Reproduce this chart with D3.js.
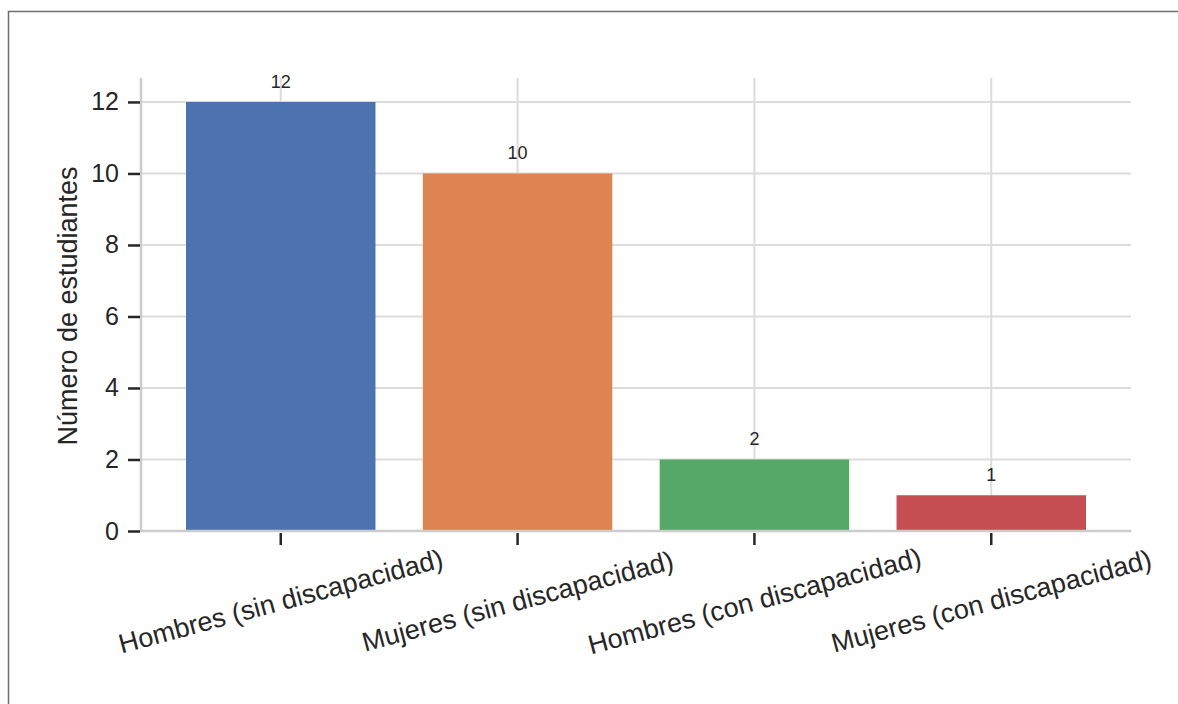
<!DOCTYPE html>
<html lang="es">
<head>
  <meta charset="UTF-8">
  <title>Número de estudiantes</title>
  <script src="https://d3js.org/d3.v7.min.js"></script>
  <style>
    body { margin: 0; background: #fff; }
    text { font-family: "Liberation Sans", Arial, sans-serif; fill: #262626; }
  </style>
</head>
<body>
  <div id="chart"></div>
  <script>
    const width = 1178;
    const height = 704;

    // Datos
    const categorias = [
      "Hombres (sin discapacidad)",
      "Mujeres (sin discapacidad)",
      "Hombres (con discapacidad)",
      "Mujeres (con discapacidad)"
    ];
    const valores = [12, 10, 2, 1];
    const colores = ["#4c72b0", "#dd8452", "#55a868", "#c44e52"];
    const yTicks = [0, 2, 4, 6, 8, 10, 12];

    const margin = { left: 141, right: 47, top: 78, bottom: 173 };
    const plotW = width - margin.left - margin.right;

    const svg = d3.select("#chart")
      .append("svg")
      .attr("width", width)
      .attr("height", height);

    // borde del marco
    svg.append("rect")
      .attr("x", 8.5).attr("y", 11.5)
      .attr("width", width).attr("height", height)
      .attr("fill", "none")
      .attr("stroke", "#6e6e6e")
      .attr("stroke-width", 1.5);

    // escalas: índice de categoría con márgenes como matplotlib
    const x = d3.scaleLinear()
      .domain([-0.59, categorias.length - 1 + 0.59])
      .range([margin.left, margin.left + plotW]);
    const y = d3.scaleLinear()
      .domain([0, 12.67])
      .range([531, margin.top]);

    const g = svg.append("g");

    // rejilla
    g.selectAll(".hgrid")
      .data(yTicks)
      .enter().append("line")
      .attr("x1", x.range()[0]).attr("x2", x.range()[1])
      .attr("y1", d => y(d)).attr("y2", d => y(d))
      .attr("stroke", "#dcdcdc").attr("stroke-width", 2);
    g.selectAll(".vgrid")
      .data(categorias)
      .enter().append("line")
      .attr("x1", (d, i) => x(i)).attr("x2", (d, i) => x(i))
      .attr("y1", y.range()[0]).attr("y2", y.range()[1])
      .attr("stroke", "#dcdcdc").attr("stroke-width", 2);

    // barras
    const bw = x(0.8) - x(0);
    g.selectAll(".bar")
      .data(valores)
      .enter().append("rect")
      .attr("x", (d, i) => x(i) - bw / 2)
      .attr("y", d => y(d))
      .attr("width", bw)
      .attr("height", d => y(0) - y(d))
      .attr("fill", (d, i) => colores[i]);

    // etiquetas de valor
    g.selectAll(".val")
      .data(valores)
      .enter().append("text")
      .attr("x", (d, i) => x(i))
      .attr("y", d => y(d) - 14)
      .attr("text-anchor", "middle")
      .style("font-size", "18px")
      .text(d => d);

    // ejes (spines)
    g.append("line")
      .attr("x1", x.range()[0]).attr("x2", x.range()[0])
      .attr("y1", y.range()[0] + 1).attr("y2", y.range()[1])
      .attr("stroke", "#cccccc").attr("stroke-width", 2.5);
    g.append("line")
      .attr("x1", x.range()[0]).attr("x2", x.range()[1])
      .attr("y1", y(0)).attr("y2", y(0))
      .attr("stroke", "#cccccc").attr("stroke-width", 2.5);

    // ticks eje Y
    const yAxis = d3.axisLeft(y).tickValues(yTicks).tickSize(12).tickPadding(9);
    const ya = svg.append("g")
      .attr("transform", `translate(${x.range()[0] - 1},0)`)
      .call(yAxis);
    ya.select(".domain").remove();
    ya.selectAll(".tick line").attr("stroke", "#262626").attr("stroke-width", 2.5);
    ya.selectAll(".tick text").style("font-size", "25px").attr("fill", "#262626");

    // ticks eje X
    const xa = svg.append("g");
    xa.selectAll(".xt")
      .data(categorias)
      .enter().append("line")
      .attr("x1", (d, i) => x(i)).attr("x2", (d, i) => x(i))
      .attr("y1", y(0) + 2).attr("y2", y(0) + 14)
      .attr("stroke", "#262626").attr("stroke-width", 2.5);
    xa.selectAll(".xl")
      .data(categorias)
      .enter().append("text")
      .attr("transform", (d, i) => `translate(${x(i)},601) rotate(-15)`)
      .attr("text-anchor", "middle")
      .attr("dy", "0.35em")
      .style("font-size", "27px")
      .text(d => d);

    // título eje Y
    svg.append("text")
      .attr("transform", "translate(68,306) rotate(-90)")
      .attr("text-anchor", "middle")
      .attr("dy", "0.35em")
      .style("font-size", "27px")
      .text("Número de estudiantes");
  </script>
</body>
</html>
